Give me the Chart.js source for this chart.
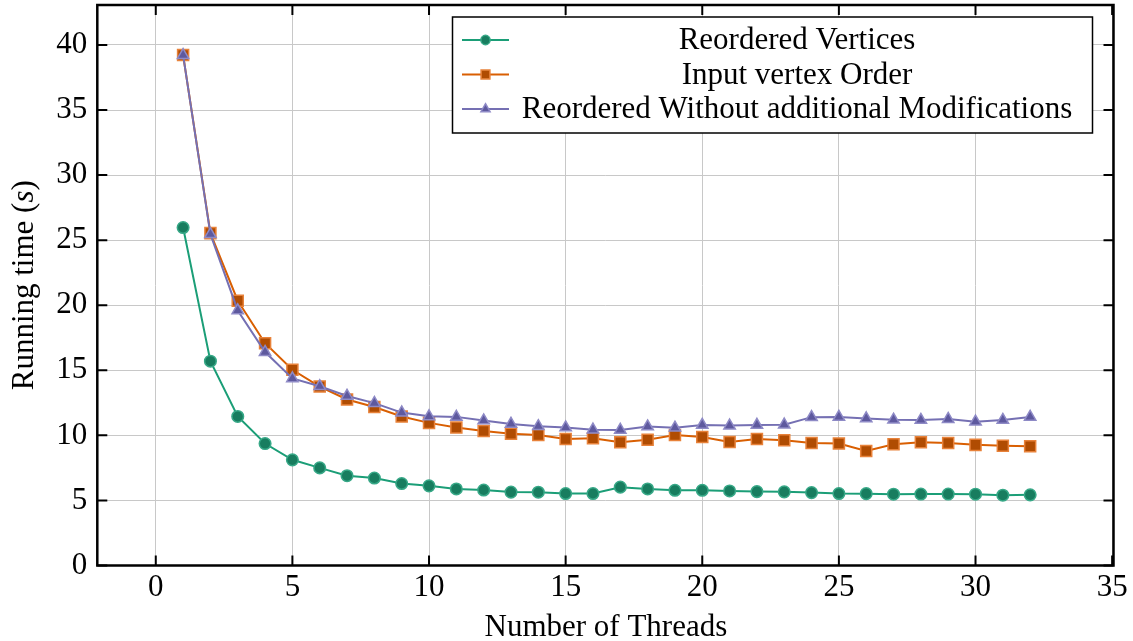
<!DOCTYPE html>
<html>
<head>
<meta charset="utf-8">
<script src="https://cdn.jsdelivr.net/npm/chart.js@4.4.1/dist/chart.umd.min.js"></script>
<style>
  html, body { margin: 0; padding: 0; background: #fff; }
  #wrap { width: 1133px; height: 641px; position: relative; }
</style>
</head>
<body>
<div id="wrap"><canvas id="chart"></canvas></div>
<script>
// data
const threads = [1, 2, 3, 4, 5, 6, 7, 8, 9, 10, 11, 12, 13, 14, 15, 16,
                 17, 18, 19, 20, 21, 22, 23, 24, 25, 26, 27, 28, 29, 30, 31, 32];
const reorderedVertices = [25.97, 15.7, 11.45, 9.37, 8.12, 7.5, 6.9, 6.72, 6.3, 6.12, 5.88, 5.8, 5.64, 5.63, 5.53, 5.53,
                           6.02, 5.88, 5.78, 5.78, 5.73, 5.68, 5.66, 5.6, 5.53, 5.52, 5.48, 5.49, 5.49, 5.48, 5.4, 5.43];
const inputVertexOrder = [39.22, 25.54, 20.35, 17.08, 15.04, 13.75, 12.76, 12.18, 11.45, 10.96, 10.6, 10.34, 10.13, 10.03, 9.72, 9.77,
                          9.47, 9.67, 10.03, 9.88, 9.49, 9.72, 9.62, 9.42, 9.37, 8.8, 9.32, 9.47, 9.42, 9.27, 9.21, 9.16];
const reorderedNoMods = [39.22, 25.45, 19.6, 16.4, 14.38, 13.77, 13.03, 12.48, 11.75, 11.46, 11.42, 11.14, 10.88, 10.7, 10.6, 10.44,
                         10.42, 10.68, 10.58, 10.8, 10.75, 10.8, 10.82, 11.4, 11.42, 11.3, 11.2, 11.18, 11.25, 11.05, 11.18, 11.42];
const seriesNames = ["Reordered Vertices", "Input vertex Order", "Reordered Without additional Modifications"];
const xTicks = [0, 5, 10, 15, 20, 25, 30, 35];
const yTicks = [0, 5, 10, 15, 20, 25, 30, 35, 40];

const FONT = "'Liberation Serif', 'DejaVu Serif', serif";
const FS = 31;

const styles = [
    { line: "#1b9e77", face: "#187d5f", edge: "#37a887", shape: "circle", r: 5.8 },
    { line: "#d95f02", face: "#b04c02", edge: "#e8823a", shape: "rect", r: 7.8 },
    { line: "#7570b3", face: "#5e599e", edge: "#8e8ac6", shape: "triangle", r: 6.6 }
];
const values = [reorderedVertices, inputVertexOrder, reorderedNoMods];

function drawMarker(ctx, shape, x, y, r, face, edge) {
    ctx.save();
    ctx.fillStyle = face;
    ctx.strokeStyle = edge;
    ctx.lineWidth = 1.5;
    ctx.beginPath();
    if (shape === "circle") {
        ctx.arc(x, y, r, 0, Math.PI * 2);
    } else if (shape === "rect") {
        const s = Math.SQRT1_2 * r;
        ctx.rect(x - s, y - s, 2 * s, 2 * s);
    } else {
        for (let i = 0; i < 3; i++) {
            const a = i * 2 * Math.PI / 3;
            const px = x + Math.sin(a) * r, py = y - Math.cos(a) * r;
            if (i === 0) ctx.moveTo(px, py); else ctx.lineTo(px, py);
        }
        ctx.closePath();
    }
    ctx.fill();
    ctx.stroke();
    ctx.restore();
}

// frame, inward ticks, legend and axis titles drawn on top like matplotlib
const decorations = {
    id: "decorations",
    afterDraw(chart) {
        const ctx = chart.ctx;
        const a = chart.chartArea;
        const xs = chart.scales.x, ys = chart.scales.y;
        ctx.save();
        ctx.strokeStyle = "#000";
        ctx.lineWidth = 2;
        xTicks.forEach(v => {
            const px = xs.getPixelForValue(v);
            ctx.beginPath();
            ctx.moveTo(px, a.bottom); ctx.lineTo(px, a.bottom - 10);
            ctx.moveTo(px, a.top); ctx.lineTo(px, a.top + 10);
            ctx.stroke();
        });
        yTicks.forEach(v => {
            const py = ys.getPixelForValue(v);
            ctx.beginPath();
            ctx.moveTo(a.left, py); ctx.lineTo(a.left + 10, py);
            ctx.moveTo(a.right, py); ctx.lineTo(a.right - 10, py);
            ctx.stroke();
        });
        ctx.lineWidth = 2.5;
        ctx.strokeRect(a.left, a.top, a.right - a.left, a.bottom - a.top);

        // legend
        const lx = 452.5, ly = 17, lw = 640, lh = 116;
        ctx.fillStyle = "#fff";
        ctx.fillRect(lx, ly, lw, lh);
        ctx.lineWidth = 1.5;
        ctx.strokeRect(lx, ly, lw, lh);
        ctx.font = FS + "px " + FONT;
        ctx.textAlign = "center";
        ctx.textBaseline = "alphabetic";
        seriesNames.forEach((name, i) => {
            const st = styles[i];
            const cy = 40 + i * 34.5;
            ctx.strokeStyle = st.line;
            ctx.lineWidth = 2;
            ctx.beginPath();
            ctx.moveTo(462, cy); ctx.lineTo(509, cy);
            ctx.stroke();
            drawMarker(ctx, st.shape, 485.5, cy, st.r * 0.8, st.face, st.edge);
            ctx.fillStyle = "#000";
            ctx.fillText(name, 797, cy + 9);
        });

        // x axis title
        ctx.fillStyle = "#000";
        ctx.font = FS + "px " + FONT;
        ctx.fillText("Number of Threads", (a.left + a.right) / 2 + 0.5, 636);

        // y axis title with italic s
        const parts = [["Running time (", ""], ["s", "italic "], [")", ""]];
        let total = 0;
        parts.forEach(p => { ctx.font = p[1] + FS + "px " + FONT; p.push(ctx.measureText(p[0]).width); total += p[2]; });
        ctx.translate(33, (a.top + a.bottom) / 2);
        ctx.rotate(-Math.PI / 2);
        ctx.textAlign = "left";
        let tx = -total / 2;
        parts.forEach(p => { ctx.font = p[1] + FS + "px " + FONT; ctx.fillText(p[0], tx, 0); tx += p[2]; });
        ctx.restore();
    }
};

Chart.defaults.font.family = FONT;
Chart.defaults.font.size = FS;
Chart.defaults.color = "#000";

new Chart(document.getElementById("chart"), {
    type: "line",
    data: {
        datasets: values.map((vals, i) => ({
            label: seriesNames[i],
            data: threads.map((t, j) => ({ x: t, y: vals[j] })),
            borderColor: styles[i].line,
            borderWidth: 2,
            pointStyle: styles[i].shape,
            pointRadius: styles[i].r,
            pointHoverRadius: styles[i].r,
            pointBackgroundColor: styles[i].face,
            pointBorderColor: styles[i].edge,
            pointBorderWidth: 1.5,
            tension: 0,
            fill: false,
            order: 3 - i
        }))
    },
    plugins: [decorations],
    options: {
        responsive: true,
        maintainAspectRatio: false,
        animation: false,
        layout: { autoPadding: false, padding: { top: 5, right: 19.5, left: 0, bottom: 0 } },
        plugins: { legend: { display: false }, tooltip: { enabled: false } },
        scales: {
            x: {
                type: "linear",
                min: -2.14,
                max: 35.05,
                afterFit: s => { s.height = 75.5; s.paddingLeft = 0; s.paddingRight = 0; },
                afterBuildTicks: s => { s.ticks = xTicks.map(v => ({ value: v })); },
                ticks: { padding: 4, autoSkip: false, maxRotation: 0 },
                grid: { color: "#c8c8c8", lineWidth: 1, drawTicks: false },
                border: { display: false }
            },
            y: {
                min: 0,
                max: 43.07,
                afterFit: s => { s.width = 97.3; s.paddingTop = 0; s.paddingBottom = 0; },
                afterBuildTicks: s => { s.ticks = yTicks.map(v => ({ value: v })); },
                ticks: { padding: 10 },
                grid: { color: "#c8c8c8", lineWidth: 1, drawTicks: false },
                border: { display: false }
            }
        }
    }
});
</script>
</body>
</html>
